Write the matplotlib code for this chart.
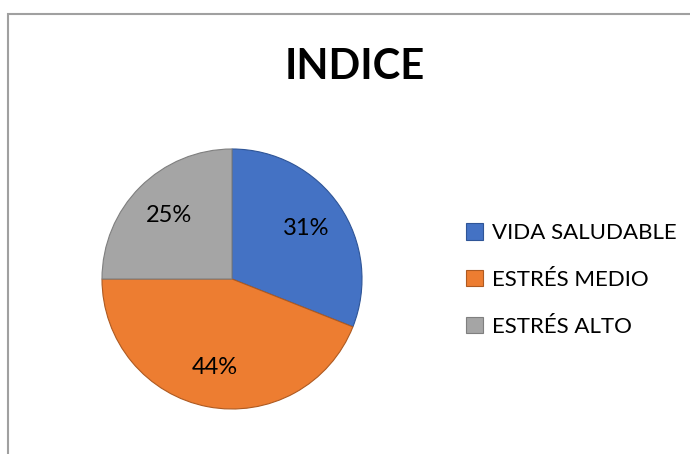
import matplotlib.pyplot as plt
from matplotlib.patches import Rectangle, Patch

plt.rcParams['font.family'] = ['Lato', 'DejaVu Sans']

categories = ['VIDA SALUDABLE', 'ESTRÉS MEDIO', 'ESTRÉS ALTO']
values = [31, 44, 25]
colors = ['#4472C4', '#ED7D31', '#A5A5A5']
edges = ['#2F5597', '#AE5A21', '#7F7F7F']

W, H = 690, 454
fig = plt.figure(figsize=(W / 100, H / 100), dpi=100)

# chart border (grey, left and top visible)
fig.patches.append(Rectangle((8 / W, -0.1), 1.2, (H - 14) / H + 0.1,
                             transform=fig.transFigure, fill=False,
                             edgecolor='#A0A0A0', linewidth=1.5))

cx, cy, r = 232, 279, 130
ax = fig.add_axes([(cx - r) / W, (H - cy - r) / H, 2 * r / W, 2 * r / H])
wedges, texts, autotexts = ax.pie(values, colors=colors, startangle=90,
                                  counterclock=False, autopct='%1.0f%%',
                                  pctdistance=0.69,
                                  wedgeprops=dict(linewidth=0.8),
                                  textprops=dict(fontsize=17, color='black'))
for w, e in zip(wedges, edges):
    w.set_edgecolor(e)
ax.set_xlim(-1, 1)
ax.set_ylim(-1, 1)
ax.set_aspect('equal')

fig.text(355 / W, 1 - 67 / H, 'INDICE', ha='center', va='center',
         fontsize=30, fontweight='bold')

handles = [Patch(facecolor=c, edgecolor=e, linewidth=0.8) for c, e in zip(colors, edges)]
fig.legend(handles, categories, loc='center left',
           bbox_to_anchor=(446 / W, 1 - 280 / H), frameon=False,
           fontsize=16, handlelength=0.75, handleheight=0.75,
           handletextpad=0.4, labelspacing=1.2)

fig.savefig('out.png', dpi=100)
